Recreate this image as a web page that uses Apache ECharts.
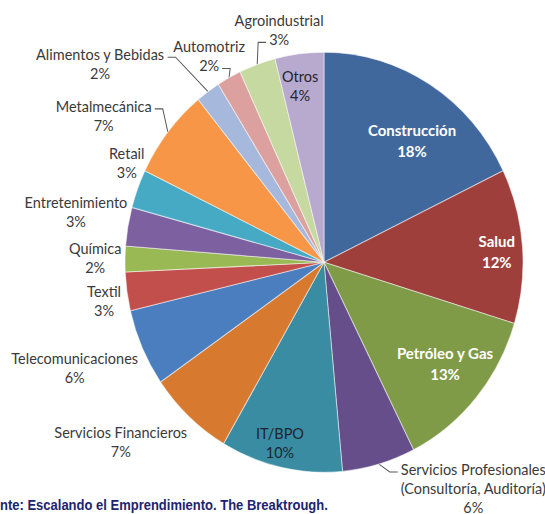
<!DOCTYPE html>
<html>
<head>
<meta charset="utf-8">
<script src="https://cdn.jsdelivr.net/npm/echarts@6/dist/echarts.min.js"></script>
<style>
  html, body { margin: 0; padding: 0; background: #fff; }
  #chart { width: 545px; height: 514px; transform: scaleY(1.0554); transform-origin: 0 0; }
</style>
</head>
<body>
<div id="chart"></div>
<script>
// Sector shares (%), clockwise from 12 o'clock
const categories = [
  'Construcción', 'Salud', 'Petróleo y Gas',
  'Servicios Profesionales\n(Consultoría, Auditoría)', 'IT/BPO',
  'Servicios Financieros', 'Telecomunicaciones', 'Textil', 'Química',
  'Entretenimiento', 'Retail', 'Metalmecánica', 'Alimentos y Bebidas',
  'Automotriz', 'Agroindustrial', 'Otros'
];
const shares = [18, 12, 13, 6, 10, 7, 6, 3, 2, 3, 3, 7, 2, 2, 3, 4];
const sliceColors = [
  '#41689C', '#9E3F3C', '#7F9B47', '#654E89', '#3A8CA3', '#D77A30',
  '#4A7EBF', '#C24F4B', '#98B954', '#7D60A0', '#46AAC4', '#F79646',
  '#A6B9DC', '#DCA09F', '#C6D9A0', '#B8A9CE'
];
const sourceNote = 'Fuente: Escalando el Emprendimiento. The Breaktrough.';

// Geometry of the pie (chart pixels, before the vertical stretch)
const CX = 324, CY = 248.5, R = 199;
const OUT_FONT_SIZE = 14.5, LINE_H = 18, FONT = 'Lato';
const NOTE_FONT = 'bold 13px "Liberation Sans"';

// Label placement: d = distance from centre in radii, da = angular nudge (deg)
// from the slice's mid-angle; lead = leader line (line index of text, side).
const labelPlace = [
  { d: 0.73, da: 5.2, kind: 'light' },
  { d: 0.87, da: 1.0, kind: 'light' },
  { d: 0.775, da: -1.8, kind: 'light' },
  { d: 1.31, da: -18.9, lead: { line: 0, side: 'left' } },
  { d: 0.885, da: 2.0, kind: 'dark' },
  { d: 1.33, da: 7.4 },
  { d: 1.35, da: 2.2 },
  { d: 1.12, da: -1.3 },
  { d: 1.15, da: 0.3 },
  { d: 1.27, da: 1.2 },
  { d: 1.10, da: 5.2 },
  { d: 1.31, da: -6.0, lead: { line: 0, side: 'right' } },
  { d: 1.47, da: -14.3, lead: { line: 0, side: 'right' } },
  { d: 1.14, da: -1.9, lead: { line: 1, side: 'right' } },
  { d: 1.13, da: 8.1, lead: { line: 1, side: 'left' } },
  { d: 0.85, da: -1.0, kind: 'dark' }
];

const total = shares.reduce((a, b) => a + b, 0);
function midAngle(i) {
  let s = 0;
  for (let k = 0; k < i; k++) s += shares[k];
  return (s + shares[i] / 2) / total * 360;
}
function labelText(i) { return categories[i] + '\n' + shares[i] + '%'; }

const measureCtx = document.createElement('canvas').getContext('2d');
function textWidth(s, font) { measureCtx.font = font; return measureCtx.measureText(s).width; }

const data = categories.map((name, i) => {
  const pl = labelPlace[i];
  const item = { name: name, value: shares[i], itemStyle: { color: sliceColors[i] } };
  if (pl.kind === 'light') {
    item.label = { color: '#ffffff', fontWeight: 'bold', fontSize: 15, lineHeight: 20 };
  } else if (pl.kind === 'dark') {
    item.label = { color: '#1f2430' };
  }
  if (pl.lead) item.labelLine = { show: true };
  return item;
});

const chart = echarts.init(document.getElementById('chart'), null, { renderer: 'svg' });

chart.setOption({
  animation: false,
  backgroundColor: '#ffffff',
  graphic: [{
    type: 'text',
    left: -textWidth('Fue', NOTE_FONT),
    top: 472,
    style: {
      text: sourceNote,
      font: NOTE_FONT,
      fill: '#1c2470'
    }
  }],
  series: [{
    type: 'pie',
    center: [CX, CY],
    radius: R,
    startAngle: 90,
    clockwise: true,
    avoidLabelOverlap: false,
    emphasis: { disabled: true },
    itemStyle: { borderColor: 'rgba(255,255,255,0.5)', borderWidth: 1 },
    label: {
      show: true,
      position: 'outside',
      overflow: 'none',
      formatter: p => labelText(p.dataIndex),
      color: '#3a3a3a',
      fontFamily: FONT,
      fontSize: OUT_FONT_SIZE,
      lineHeight: LINE_H
    },
    labelLine: { show: false, lineStyle: { color: '#595959', width: 1 } },
    labelLayout: function (p) {
      const i = p.dataIndex;
      const pl = labelPlace[i];
      const th = (midAngle(i) + pl.da) * Math.PI / 180;
      const x = CX + pl.d * R * Math.sin(th);
      const y = CY - pl.d * R * Math.cos(th);
      const res = { x: x, y: y, align: 'center', verticalAlign: 'middle' };
      if (pl.lead) {
        const lines = labelText(i).split('\n');
        const w = textWidth(lines[pl.lead.line], OUT_FONT_SIZE + 'px ' + FONT);
        const ay = y - lines.length * LINE_H / 2 + (pl.lead.line + 0.5) * LINE_H + 3;
        const ax = x + (pl.lead.side === 'right' ? 1 : -1) * (w / 2 + 3);
        const m = midAngle(i) * Math.PI / 180;
        const p0 = [CX + R * Math.sin(m), CY - R * Math.cos(m)];
        const ex = ax + (p0[0] > ax ? 8 : -8);
        res.labelLinePoints = [p0, [ex, ay], [ax, ay]];
      }
      return res;
    },
    data: data
  }]
});
</script>
</body>
</html>
